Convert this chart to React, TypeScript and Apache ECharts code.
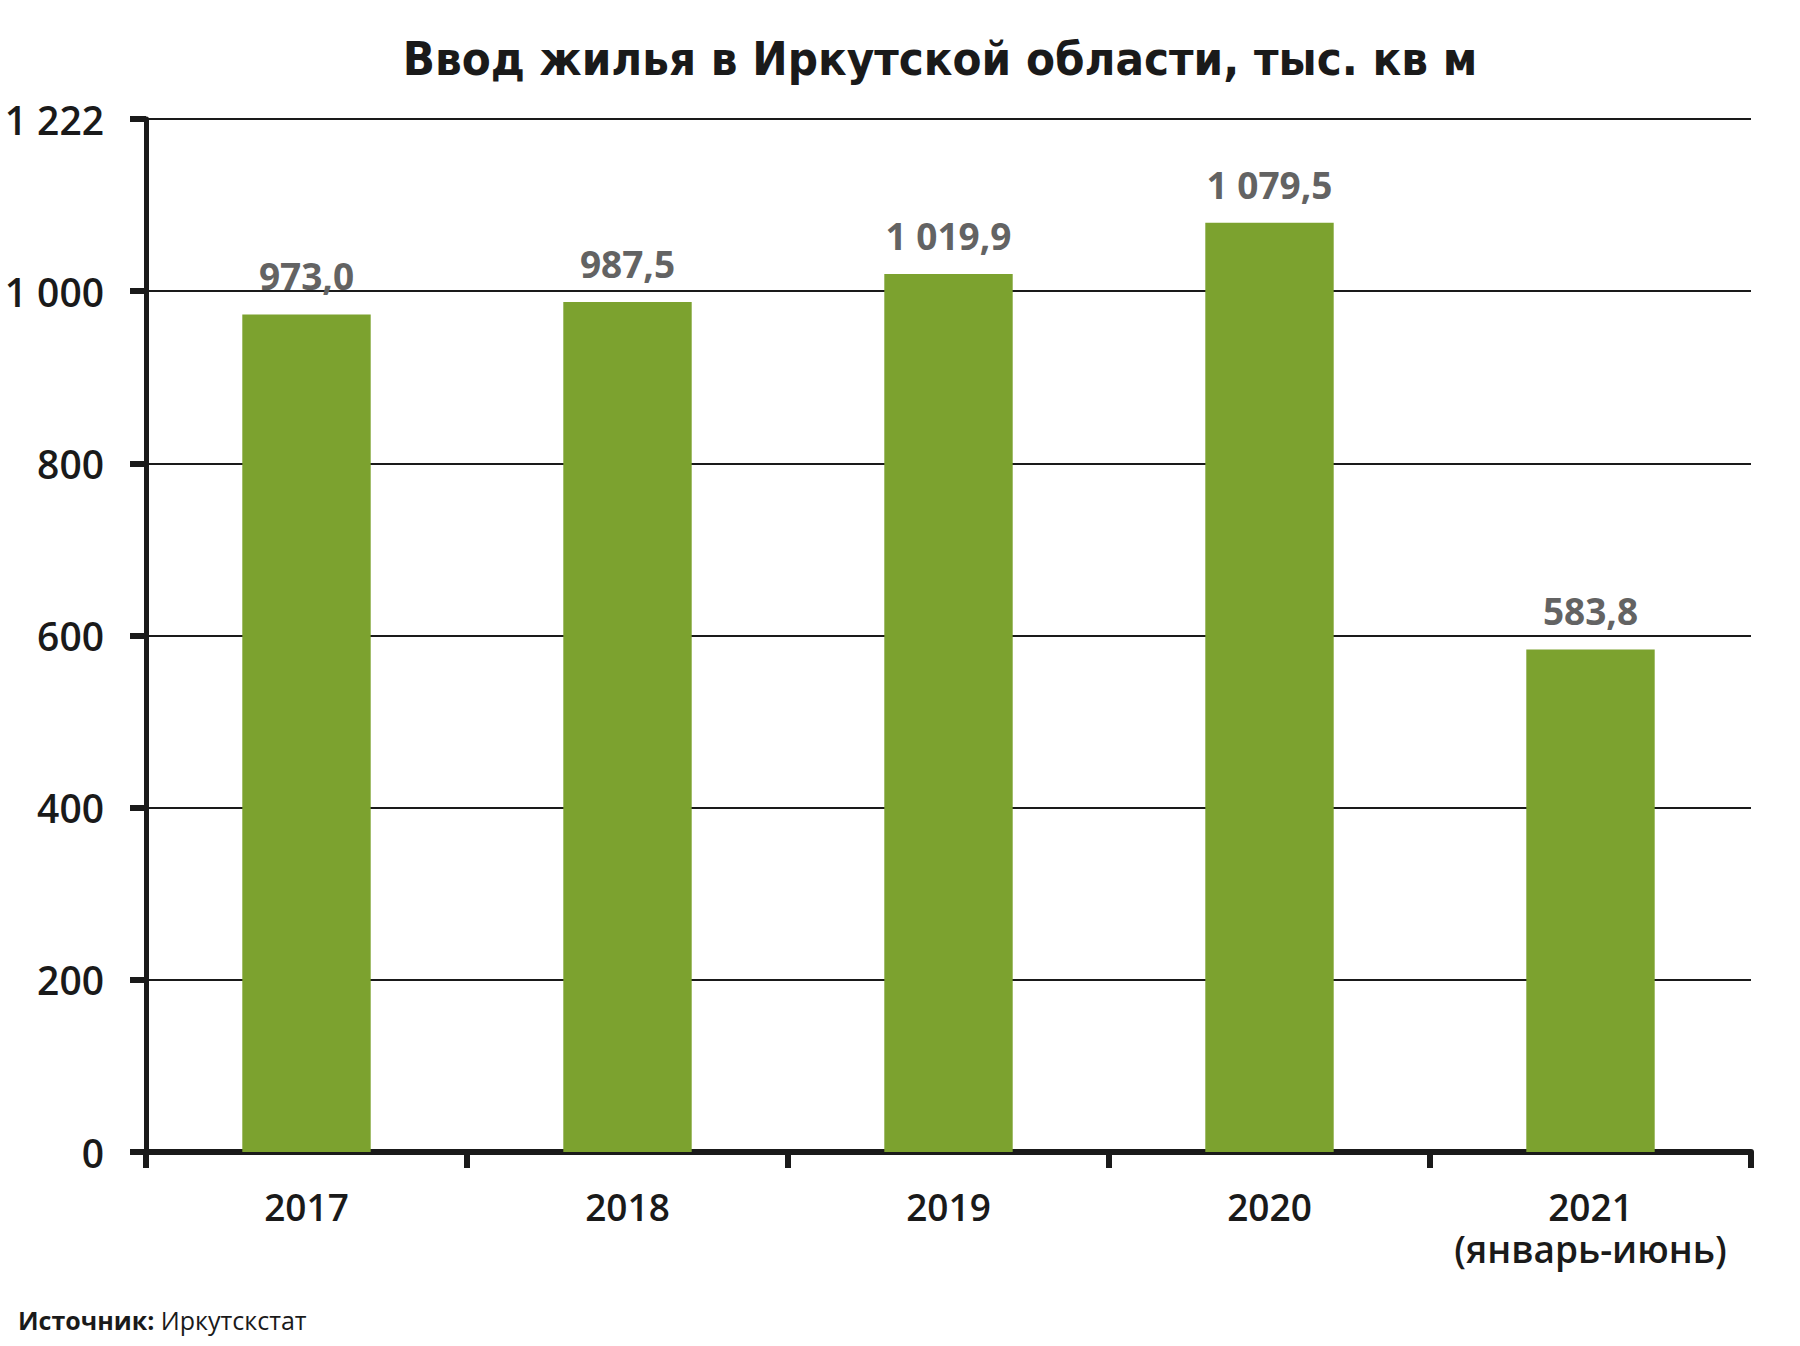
import React, { useEffect, useRef } from "react";
import * as echarts from "echarts";

const categories = ["2017", "2018", "2019", "2020", "2021\n(январь-июнь)"];
const values = [973.0, 987.5, 1019.9, 1079.5, 583.8];
const yTickLabels = ["0", "200", "400", "600", "800", "1 000", "1 222"];
const titleText = "Ввод жилья в Иркутской области, тыс. кв м";
const sourceLabel = "Источник:";
const sourceName = "Иркутскстат";

const fmtValue = (v: number) => {
  const [int, dec] = v.toFixed(1).split(".");
  const intS = int.replace(/\B(?=(\d{3})+(?!\d))/g, " ");
  return intS + "," + dec;
};

export default function App() {
  const ref = useRef<HTMLDivElement>(null);
  useEffect(() => {
    if (!ref.current) return;
    const chart = echarts.init(ref.current, null, { renderer: "svg" });
    const font = "'Open Sans', 'Noto Sans', sans-serif";
    chart.setOption({
      animation: false,
      backgroundColor: "#ffffff",
      graphic: [
        {
          type: "text",
          x: 940,
          y: 58,
          style: {
            text: titleText,
            fontFamily: "'Liberation Sans Narrow', 'DejaVu Sans Condensed', 'Open Sans', sans-serif",
            fontWeight: "bold",
            fontSize: 47,
            fill: "#1a1a1a",
            textAlign: "center",
            textVerticalAlign: "middle",
          },
        },
        {
          type: "text",
          x: 18,
          y: 1320,
          style: {
            text: "{b|" + sourceLabel + "}{r| " + sourceName + "}",
            rich: {
              b: { fontFamily: font, fontWeight: "bold", fontSize: 25, fill: "#1a1a1a" },
              r: { fontFamily: font, fontWeight: "normal", fontSize: 25, fill: "#1a1a1a" },
            },
            textVerticalAlign: "middle",
          },
        },
      ],
      grid: { left: 146, right: 49, top: 119, bottom: 194, containLabel: false },
      xAxis: {
        type: "category",
        data: categories,
        boundaryGap: true,
        axisLine: { show: true, lineStyle: { color: "#1a1a1a", width: 6 } },
        axisTick: {
          show: true,
          interval: 0,
          length: 16,
          alignWithLabel: false,
          lineStyle: { color: "#1a1a1a", width: 6 },
        },
        axisLabel: {
          interval: 0,
          margin: 33,
          fontFamily: font,
          fontWeight: 600,
          fontSize: 37,
          lineHeight: 42,
          color: "#1a1a1a",
        },
      },
      yAxis: {
        type: "value",
        min: 0,
        max: 1200,
        interval: 200,
        axisLine: { show: true, lineStyle: { color: "#1a1a1a", width: 5 } },
        axisTick: { show: true, length: 16, lineStyle: { color: "#1a1a1a", width: 6 } },
        splitLine: { show: true, lineStyle: { color: "#1a1a1a", width: 2 } },
        axisLabel: {
          margin: 42,
          fontFamily: font,
          fontWeight: 600,
          fontSize: 39,
          color: "#1a1a1a",
          formatter: (v: number) => yTickLabels[Math.round(v / 200)] ?? String(v),
        },
      },
      series: [
        {
          type: "bar",
          data: values,
          barWidth: "40%",
          itemStyle: { color: "#7ca22f" },
          label: {
            show: true,
            position: "top",
            distance: 20,
            fontFamily: font,
            fontWeight: "bold",
            fontSize: 37,
            color: "#636363",
            formatter: (p: any) => fmtValue(p.value),
          },
        },
      ],
    });
    return () => chart.dispose();
  }, []);
  return (
    <div
      ref={ref}
      style={{ position: "fixed", left: 0, top: 0, width: 1800, height: 1346, background: "#fff" }}
    />
  );
}
